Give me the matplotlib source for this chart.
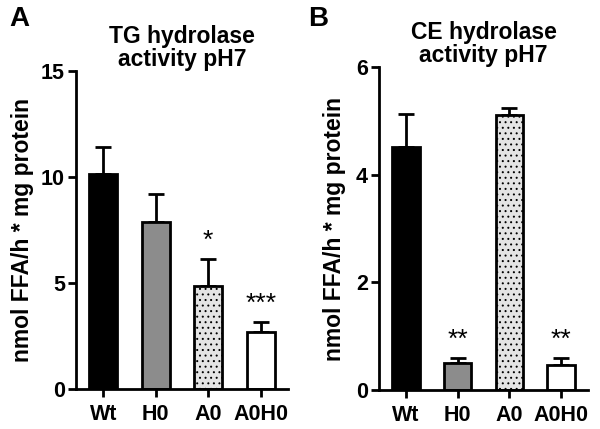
import numpy as np
import matplotlib
matplotlib.use("Agg")
import matplotlib.pyplot as plt

plt.rcParams["font.family"] = ["Liberation Sans", "DejaVu Sans"]
plt.rcParams["font.weight"] = "bold"
plt.rcParams["axes.titleweight"] = "bold"
plt.rcParams["axes.labelweight"] = "bold"
plt.rcParams["hatch.linewidth"] = 0.7

groups = ["Wt", "H0", "A0", "A0H0"]

tg_mean = [10.15, 7.9, 4.85, 2.7]
tg_err = [1.25, 1.3, 1.27, 0.47]
tg_stars = ["", "", "*", "***"]

ce_mean = [4.52, 0.5, 5.11, 0.46]
ce_err = [0.6, 0.09, 0.13, 0.13]
ce_stars = ["", "**", "", "**"]

colors = ["black", "#8c8c8c", "#e4e4e4", "white"]
hatches = [None, None, "...", None]

ylabel = "nmol FFA/h * mg protein"


def panel(ax, means, errs, stars, ymax, step, title, star_off, lab_x, tpad):
    x = np.arange(len(groups))
    for i in range(len(groups)):
        ax.bar(x[i], means[i], width=0.53, color=colors[i], edgecolor="black",
               linewidth=2, hatch=hatches[i], zorder=2)
        ax.errorbar(x[i], means[i], yerr=[[0], [errs[i]]], fmt="none",
                    ecolor="black", elinewidth=2, capsize=6, capthick=2, zorder=1)
        if stars[i]:
            ax.text(x[i], means[i] + errs[i] + star_off, stars[i], ha="center",
                    va="bottom", fontsize=19, weight="normal")
    ax.set_xlim(-0.52, 3.52)
    ax.set_ylim(0, ymax)
    ax.set_yticks(np.arange(0, ymax + 0.01, step))
    ax.set_xticks(x)
    ax.set_xticklabels(groups)
    ax.spines["top"].set_visible(False)
    ax.spines["right"].set_visible(False)
    for s in ["left", "bottom"]:
        ax.spines[s].set_linewidth(2)
    ax.tick_params(width=2, length=6, labelsize=15.5, pad=2)
    ax.tick_params(axis="x", pad=5)
    ax.set_ylabel(ylabel, fontsize=16.5)
    ax.yaxis.set_label_coords(lab_x, 0.5)
    ax.set_title(title, fontsize=16.5, pad=tpad, linespacing=1.0)


fig = plt.figure(figsize=(6, 4.29), dpi=100)
ax1 = fig.add_axes([0.1267, 0.0932, 0.3533, 0.7413])
ax2 = fig.add_axes([0.6317, 0.0909, 0.3483, 0.7529])

panel(ax1, tg_mean, tg_err, tg_stars, 15, 5, "TG hydrolase\nactivity pH7", 0.3, -0.2, 0)
panel(ax2, ce_mean, ce_err, ce_stars, 6, 2, "CE hydrolase\nactivity pH7", 0.12, -0.16, -4)

fig.text(0.015, 0.955, "A", fontsize=20, weight="bold", va="center")
fig.text(0.513, 0.955, "B", fontsize=20, weight="bold", va="center")

fig.savefig("out.png", dpi=100)
